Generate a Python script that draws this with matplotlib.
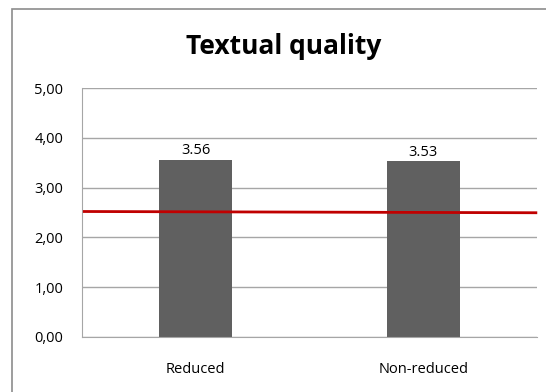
import numpy as np
import matplotlib.pyplot as plt
from matplotlib.patches import Rectangle
from matplotlib.ticker import FuncFormatter

plt.rcParams['font.family'] = ['Open Sans', 'DejaVu Sans']

categories = ['Reduced', 'Non-reduced']
scores = [3.56, 3.53]
score_labels = ['3.56', '3.53']
ref_x = [-0.49, 1.495]
ref_y = [2.52, 2.495]

fig = plt.figure(figsize=[5.46, 3.92], dpi=100)
# chart frame (cropped on the right and bottom in the source)
fig.patches.append(Rectangle((11.5/546, -0.1), 1.2, (392 - 9.5)/392 + 0.1,
                             transform=fig.transFigure, fill=False,
                             edgecolor='#8c8c8c', linewidth=1.2))

ax = fig.add_axes([82/546, 55/392, 455/546, 249/392])
x = np.arange(len(categories))
ax.bar(x, scores, width=0.32, color='#606060', zorder=2)
for xi, v, lab in zip(x, scores, score_labels):
    ax.text(xi, v + 0.03, lab, ha='center', va='bottom', fontsize=10.5)

ax.plot(ref_x, ref_y, color='#c00000', linewidth=2, zorder=3, clip_on=False)

ax.set_xlim(-0.5, 1.5)
ax.set_ylim(0, 5)
ax.set_yticks(np.arange(0, 5.01, 1))
ax.yaxis.set_major_formatter(FuncFormatter(lambda v, p: f'{v:.2f}'.replace('.', ',')))
ax.set_xticks(x)
ax.set_xticklabels(categories)
ax.tick_params(axis='both', length=0, labelsize=10.5)
ax.tick_params(axis='x', pad=18)
ax.tick_params(axis='y', pad=13.5)
ax.grid(axis='y', color='#a6a6a6', linewidth=1, zorder=0)
for s in ['top', 'right']:
    ax.spines[s].set_visible(False)
for s in ['left', 'bottom']:
    ax.spines[s].set_color('#a6a6a6')

fig.text(284/546, (392 - 47)/392, 'Textual quality', ha='center', va='center',
         fontsize=19, fontweight='bold')

plt.savefig('out.png', dpi=100)
